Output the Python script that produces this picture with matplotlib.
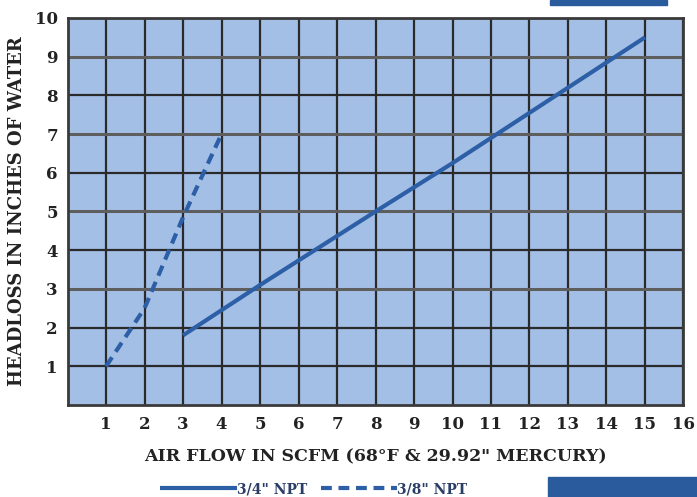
import numpy as np
import matplotlib
matplotlib.use("Agg")
import matplotlib.pyplot as plt
from matplotlib.patches import Rectangle

# data
flow_34 = [3, 5, 8, 10, 12, 15]
loss_34 = [1.8, 3.1, 5.0, 6.25, 7.55, 9.5]
flow_38 = [1, 2, 3, 4]
loss_38 = [1.0, 2.5, 4.85, 7.0]
xticks = list(range(1, 17))
yticks = list(range(1, 11))

line_col = "#2d5fa6"
bg_col = "#a4bfe6"

fig = plt.figure(figsize=(6.97, 4.97), dpi=100)
ax = fig.add_axes([0.0969, 0.1851, 0.8837, 0.7787])
ax.set_facecolor(bg_col)

ax.plot(flow_34, loss_34, color=line_col, lw=3, solid_capstyle="butt", label='3/4" NPT', zorder=3)
ax.plot(flow_38, loss_38, color=line_col, lw=3, ls=(0, (2.6, 1.6)), label='3/8" NPT', zorder=3)

ax.set_xlim(0, 16)
ax.set_ylim(0, 10)
ax.set_xticks(xticks)
ax.set_yticks(yticks)
ax.tick_params(axis="x", length=0, pad=8)
ax.tick_params(axis="y", length=0, pad=7)
for lab in ax.get_xticklabels() + ax.get_yticklabels():
    lab.set_fontfamily("DejaVu Serif")
    lab.set_fontweight("bold")
    lab.set_fontsize(12)
    lab.set_color("#222222")

ax.grid(True, color="#2a2a2a", lw=1.6)
for i, gl in enumerate(ax.get_ygridlines()):
    if i % 2 == 0 and i > 0:
        gl.set_color("#5e5e5e")
        gl.set_linewidth(2.2)
for sp in ax.spines.values():
    sp.set_color("#3a3a3a")
    sp.set_linewidth(2)
ax.set_axisbelow(True)

ax.set_xlabel('AIR FLOW IN SCFM (68°F & 29.92" MERCURY)', fontfamily="DejaVu Serif",
              fontweight="bold", fontsize=12.5, color="#222222", labelpad=11)
ax.set_ylabel("HEADLOSS IN INCHES OF WATER", fontfamily="DejaVu Serif",
              fontweight="bold", fontsize=13, color="#222222", labelpad=6)

leg = fig.legend(loc="center", bbox_to_anchor=(0.45, 0.016), ncol=2, frameon=False,
                 handlelength=5.5, handletextpad=0.0, columnspacing=1.0,
                 prop={"family": "DejaVu Serif", "weight": "bold", "size": 10})
for t in leg.get_texts():
    t.set_color("#2a3d66")

# scan artefacts at the page edges
fig.patches.append(Rectangle((550 / 697, 1 - 5 / 497), 117 / 697, 5 / 497,
                             transform=fig.transFigure, color="#2a5b9c"))
fig.patches.append(Rectangle((548 / 697, 0), 149 / 697, 20 / 497,
                             transform=fig.transFigure, color="#2a5b9c"))

fig.savefig("out.png", dpi=100)
